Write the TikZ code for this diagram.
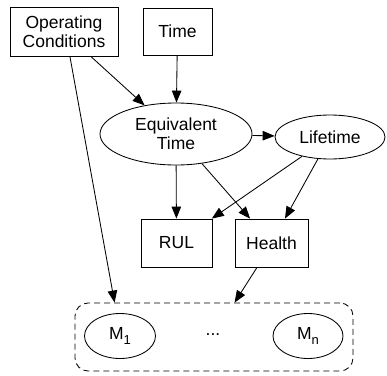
\documentclass[tikz,border=0pt]{standalone}
\usepackage{fontspec}
\setmainfont{Liberation Sans}
\usetikzlibrary{arrows.meta,shapes.geometric,calc}
\tikzset{
  base/.style={draw, line width=0.85pt, inner sep=0pt, align=center,
    font=\fontsize{17.5}{19}\selectfont},
  boxnode/.style={base, rectangle},
  ovalnode/.style={base, ellipse},
  link/.style={line width=0.85pt, -{Triangle[length=12pt,width=9.5pt]}},
}
\newcommand{\subidx}[1]{\raisebox{-0.45ex}{\fontsize{13}{13}\selectfont#1}}
\begin{document}
\begin{tikzpicture}[x=1pt,y=-1pt]
  \useasboundingbox (0,0) rectangle (387,375);

  % group of models
  \node[draw, dashed, dash pattern=on 6pt off 4pt, line width=0.85pt, rounded corners=13pt,
        minimum width=278pt, minimum height=68pt] (grp) at (214,337) {};
  \node[ovalnode, minimum width=71pt, minimum height=45pt] (m1) at (120,336) {M\subidx{1}};
  \node[ovalnode, minimum width=70pt, minimum height=45pt] (mn) at (308,336) {M\subidx{n}};
  \node[font=\fontsize{17.5}{19}\selectfont] (dots) at (213,335) {...};

  % nodes
  \node[boxnode, minimum width=108pt, minimum height=49pt] (oc) at (64,32) {Operating\\Conditions};
  \node[boxnode, minimum width=69pt, minimum height=47pt] (time) at (177.5,31.5) {Time};
  \node[ovalnode, minimum width=152pt, minimum height=62pt] (eqt) at (176,134) {Equivalent\\Time};
  \node[ovalnode, minimum width=110pt, minimum height=44pt] (life) at (330,137) {Lifetime};
  \node[boxnode, minimum width=71pt, minimum height=48pt] (rul) at (176.5,243) {RUL};
  \node[boxnode, minimum width=73pt, minimum height=48pt] (health) at (271.5,243) {Health};

  % connectors
  \draw[link] (oc) -- (eqt);
  \draw[link] (time) -- (eqt);
  \draw[link] (eqt) -- (life);
  \draw[link] (eqt) -- (rul);
  \draw[link] (eqt) -- (health);
  \draw[link] (life) -- (rul);
  \draw[link] (life) -- (health);
  \draw[link] ($(oc.south)+(6,0)$) -- ($(grp.north west)+(40,0)$);
  \draw[link] ($(health.south)+(-14.5,0)$) -- ($(grp.north west)+(160,0)$);
\end{tikzpicture}
\end{document}
